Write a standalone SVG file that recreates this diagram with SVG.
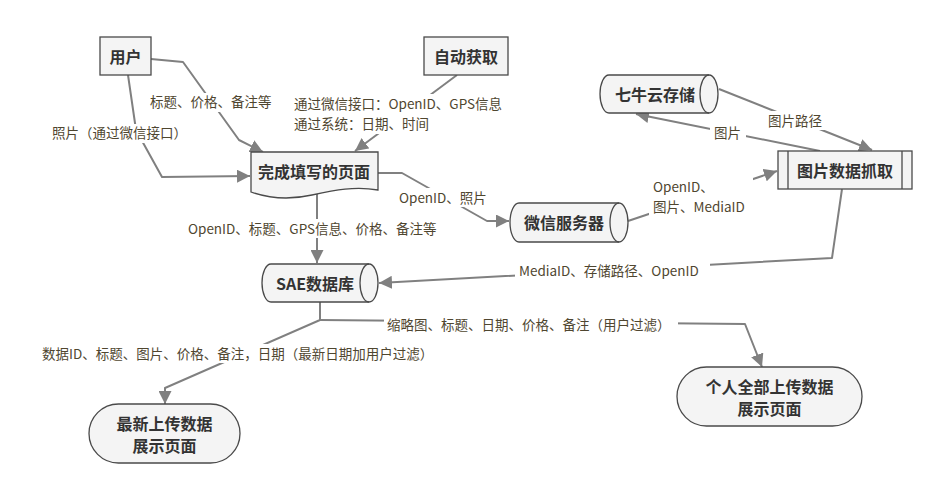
<svg xmlns="http://www.w3.org/2000/svg" width="949" height="502" viewBox="0 0 949 502">
<style>
.node{fill:#f4f4f4;stroke:#4a4a4a;stroke-width:1.3}
.inner{fill:none;stroke:#4a4a4a;stroke-width:1.3}
.nt{font-family:"Noto Sans CJK SC","Liberation Sans",sans-serif;font-size:16px;font-weight:bold;fill:#333;text-anchor:middle;dominant-baseline:central}
.conn{fill:none;stroke:#808080;stroke-width:2;stroke-linejoin:round}
.lbl{font-family:"Noto Sans CJK SC","Liberation Sans",sans-serif;font-size:13.5px;fill:#4f4630}
.bg{fill:#fff}
</style>
<defs>
<marker id="arr" viewBox="0 0 12 12" refX="12" refY="6" markerWidth="13" markerHeight="13" markerUnits="userSpaceOnUse" orient="auto">
<path d="M0,0 L12,6 L0,12 z" fill="#808080"/>
</marker>
</defs>
<rect width="949" height="502" fill="#fff"/>

<g id="connectors">
<polyline class="conn" points="151,59 183,62 239,140 263,152" marker-end="url(#arr)"/>
<polyline class="conn" points="128,75 136,130 162,177 250,176" marker-end="url(#arr)"/>
<polyline class="conn" points="457,75 355,151" marker-end="url(#arr)"/>
<polyline class="conn" points="378,173 402,173 487,221 509,221" marker-end="url(#arr)"/>
<polyline class="conn" points="317,194 317,263" marker-end="url(#arr)"/>
<polyline class="conn" points="628,221 777,171" marker-end="url(#arr)"/>
<polyline class="conn" points="719,89 872,150" marker-end="url(#arr)"/>
<polyline class="conn" points="820,151 636,114" marker-end="url(#arr)"/>
<polyline class="conn" points="842,189 832,258 379,283" marker-end="url(#arr)"/>
<polyline class="conn" points="320,302 320,320 165,388 165,404" marker-end="url(#arr)"/>
<polyline class="conn" points="320,320 745,324 762,367" marker-end="url(#arr)"/>

<rect class="bg" x="146" y="93" width="130" height="19"/>
<text class="lbl" x="150" y="107">标题、价格、备注等</text>
<rect class="bg" x="48" y="124" width="156" height="19"/>
<text class="lbl" x="52" y="138">照片（通过微信接口）</text>
<rect class="bg" x="290" y="94" width="224" height="40"/>
<text class="lbl" x="294" y="109">通过微信接口：OpenID、GPS信息</text>
<text class="lbl" x="294" y="129">通过系统：日期、时间</text>
<rect class="bg" x="395" y="188" width="99" height="19"/>
<text class="lbl" x="399" y="203">OpenID、照片</text>
<rect class="bg" x="184" y="219" width="261" height="19"/>
<text class="lbl" x="188" y="234">OpenID、标题、GPS信息、价格、备注等</text>
<rect class="bg" x="649" y="177" width="104" height="40"/>
<text class="lbl" x="653" y="192">OpenID、</text>
<text class="lbl" x="653" y="212">图片、MediaID</text>
<rect class="bg" x="764" y="111" width="62" height="19"/>
<text class="lbl" x="768" y="126">图片路径</text>
<rect class="bg" x="710" y="123" width="36" height="19"/>
<text class="lbl" x="714" y="138">图片</text>
<rect class="bg" x="515" y="261" width="195" height="19"/>
<text class="lbl" x="519" y="276">MediaID、存储路径、OpenID</text>
<rect class="bg" x="38" y="344" width="404" height="19"/>
<text class="lbl" x="42" y="359">数据ID、标题、图片、价格、备注，日期（最新日期加用户过滤）</text>
<rect class="bg" x="384" y="315" width="294" height="19"/>
<text class="lbl" x="387" y="330">缩略图、标题、日期、价格、备注（用户过滤）</text>
</g>

<g id="user">
<rect class="node" x="100" y="37" width="51" height="38"/>
<text class="nt" x="125.5" y="56">用户</text>
</g>
<g id="auto">
<rect class="node" x="424" y="37" width="84" height="38"/>
<text class="nt" x="466" y="56">自动获取</text>
</g>
<g id="page">
<path class="node" d="M251,152 H378 V190 C355,186 335,190 312,195 C290,200 268,198 251,192 Z"/>
<text class="nt" x="314" y="171">完成填写的页面</text>
</g>
<g id="wechat">
<path class="node" d="M519,203 H619 A9,19.5 0 0 1 619,242 H519 A9,19.5 0 0 1 519,203 Z"/>
<path class="inner" d="M619,203 A9,19.5 0 0 0 619,242"/>
<text class="nt" x="564" y="222">微信服务器</text>
</g>
<g id="qiniu">
<path class="node" d="M609,75 H709 A9,19 0 0 1 709,113 H609 A9,19 0 0 1 609,75 Z"/>
<path class="inner" d="M709,75 A9,19 0 0 0 709,113"/>
<text class="nt" x="655" y="94">七牛云存储</text>
</g>
<g id="fetch">
<rect class="node" x="778" y="151" width="134" height="38"/>
<line class="inner" x1="788" y1="151" x2="788" y2="189"/>
<line class="inner" x1="902" y1="151" x2="902" y2="189"/>
<text class="nt" x="845" y="170">图片数据抓取</text>
</g>
<g id="sae">
<path class="node" d="M271,264 H369 A9,19 0 0 1 369,302 H271 A9,19 0 0 1 271,264 Z"/>
<path class="inner" d="M369,264 A9,19 0 0 0 369,302"/>
<text class="nt" x="315" y="283">SAE数据库</text>
</g>
<g id="latest">
<rect class="node" x="89" y="404" width="151" height="59" rx="29.5"/>
<text class="nt" x="164.5" y="423">最新上传数据</text>
<text class="nt" x="164.5" y="445">展示页面</text>
</g>
<g id="personal">
<rect class="node" x="677" y="367" width="185" height="59" rx="29.5"/>
<text class="nt" x="769.5" y="386">个人全部上传数据</text>
<text class="nt" x="769.5" y="408">展示页面</text>
</g>
</svg>
